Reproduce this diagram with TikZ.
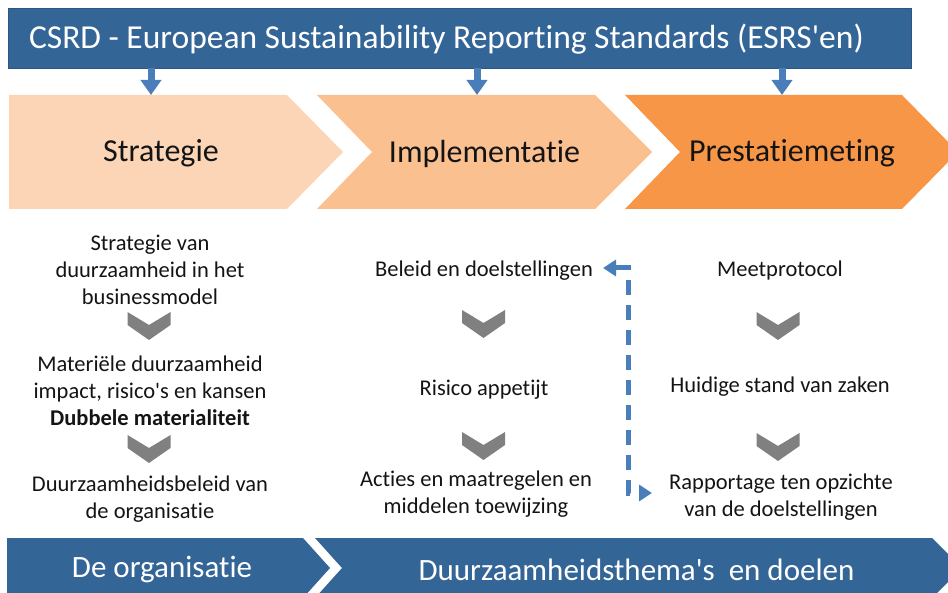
\documentclass[tikz,border=0pt]{standalone}
\usepackage{fontspec}
\setmainfont{Carlito}[RawFeature={-liga}]
\usetikzlibrary{arrows.meta}
\definecolor{barblue}{RGB}{52,101,151}
\definecolor{arrowblue}{RGB}{74,126,187}
\definecolor{chevA}{RGB}{251,213,181}
\definecolor{chevB}{RGB}{250,192,144}
\definecolor{chevC}{RGB}{247,150,70}
\definecolor{vgray}{RGB}{128,128,128}
\definecolor{txt}{RGB}{20,20,20}
\begin{document}
\begin{tikzpicture}[x=1pt,y=-1pt,
  bigtxt/.style={font=\fontsize{32}{36}\selectfont, text=txt, inner sep=0pt},
  whitetxt/.style={font=\fontsize{31}{35}\selectfont, text=white, inner sep=0pt},
  coltxt/.style={font=\fontsize{22.5}{27}\selectfont, text=txt, align=center, inner sep=0pt},
  downarrow/.style={draw=arrowblue, line width=7pt, -{Triangle[width=20pt,length=15pt]}},
  linkline/.style={draw=arrowblue, line width=5pt, dash pattern=on 15pt off 10pt, {Triangle[width=16pt,length=13pt]}-{Triangle[width=16pt,length=13pt]}},
  vdown/.pic={\fill[vgray] (-21.5,0) -- (0,13) -- (21.5,0) -- (21.5,13) -- (0,28) -- (-21.5,13) -- cycle;}
]
\useasboundingbox (0,0) rectangle (948,593);
\clip (0,0) rectangle (948,593);

% top bar
\node[fill=barblue, draw=barblue!85!black, line width=0.6pt, minimum width=903pt, minimum height=60pt, inner sep=0pt] (top) at (459.5,38) {};
\node[text=white, font=\fontsize{33.5}{36}\selectfont, inner sep=0pt] (title) at (446.5,39.5) {CSRD - European Sustainability Reporting Standards (ESRS\textquotesingle en)};

% chevrons
\fill[chevA] (9,95) -- (287,95) -- (343,152) -- (287,209) -- (9,209) -- cycle;
\fill[chevB] (317,95) -- (595,95) -- (652,152) -- (595,209) -- (317,209) -- (372,152) -- cycle;
\fill[chevC] (625,95) -- (902,95) -- (958,152) -- (902,209) -- (625,209) -- (680,152) -- cycle;
\node[bigtxt] (s1) at (161,153.5) {Strategie};
\node[bigtxt] (s2) at (484.5,153.5) {Implementatie};
\node[bigtxt] (s3) at (792,153.5) {Prestatiemeting};

% arrows from top bar
\coordinate (a1) at (151,95);
\coordinate (a2) at (477,95);
\coordinate (a3) at (782,95);
\foreach \a in {a1,a2,a3} \draw[downarrow] (top.south -| \a) -- (\a);

% column 1
\node[coltxt] (c11) at (150,270) {Strategie van\\duurzaamheid in het\\businessmodel};
\pic at (149,312) {vdown};
\node[coltxt] (c12) at (150,390.5) {Materiële duurzaamheid\\impact, risico\textquotesingle s en kansen\\\textbf{Dubbele materialiteit}};
\pic at (149,435) {vdown};
\node[coltxt] (c13) at (150,499.5) {Duurzaamheidsbeleid van\\de organisatie};

% column 2
\node[coltxt] (c21) at (484,270.5) {Beleid en doelstellingen};
\pic at (483.5,310) {vdown};
\node[coltxt] (c22) at (484,390) {Risico appetijt};
\pic at (483.5,432) {vdown};
\node[coltxt] (c23) at (476,494.5) {Acties en maatregelen en\\middelen toewijzing};

% column 3
\node[coltxt] (c31) at (780,270.5) {Meetprotocol};
\pic at (778,312) {vdown};
\node[coltxt] (c32) at (780,387) {Huidige stand van zaken};
\pic at (778,433) {vdown};
\node[coltxt] (c33) at (781,497.5) {Rapportage ten opzichte\\van de doelstellingen};

% dashed link
\coordinate (ltop) at (603,268);
\coordinate (lbot) at (652,493);
\draw[linkline] (ltop) -- (628,268) -- (628,493) -- (lbot);

% bottom bar
\fill[barblue] (7,538) -- (303,538) -- (330,568) -- (303,598) -- (7,598) -- cycle;
\fill[barblue] (315,538) -- (932,538) -- (962,568) -- (932,598) -- (315,598) -- (342,568) -- cycle;
\node[whitetxt] (b1) at (162,569.5) {De organisatie};
\node[whitetxt] (b2) at (636.5,569.5) {Duurzaamheidsthema\textquotesingle s\ \ en doelen};
\end{tikzpicture}
\end{document}
